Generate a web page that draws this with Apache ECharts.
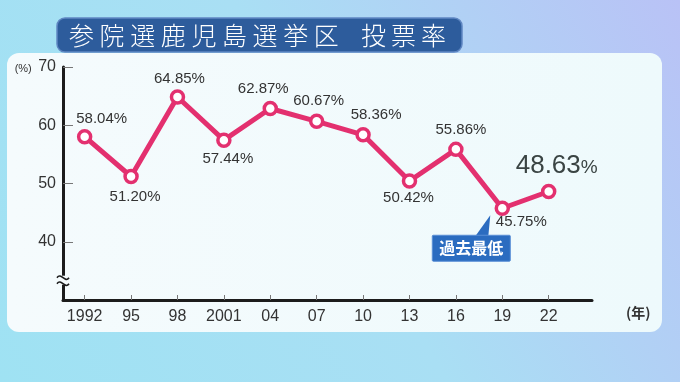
<!DOCTYPE html>
<html>
<head>
<meta charset="utf-8">
<script src="https://cdn.jsdelivr.net/npm/echarts@6/dist/echarts.min.js"></script>
<style>html,body{margin:0;padding:0;}#c{width:680px;height:382px;}</style>
</head>
<body>
<div id="c"></div>
<script>
const years = [1992, 1995, 1998, 2001, 2004, 2007, 2010, 2013, 2016, 2019, 2022];
const tickLabels = ['1992', '95', '98', '2001', '04', '07', '10', '13', '16', '19', '22'];
const turnout = [58.04, 51.20, 64.85, 57.44, 62.87, 60.67, 58.36, 50.42, 55.86, 45.75, 48.63];
const yTicks = [40, 50, 60, 70];
const titleMain = '参院選鹿児島選挙区';
const titleSub = '投票率';
const lowNote = '過去最低';
const lowIndex = 9;
const latestIndex = 10;

// label placement (style, not data)
const labelOffsets = [[17,-18],[4,20],[2,-18],[4,19],[-7,-20],[2,-20],[13,-20],[-1,17],[5,-20],[19,14],[8,-26]];

const chart = echarts.init(document.getElementById('c'));
const numFont = 'Liberation Sans';
const jpFont = 'Noto Sans CJK JP';

const seriesData = years.map((y, i) => {
  const item = { value: [y, turnout[i]], label: { offset: labelOffsets[i] } };
  if (i === latestIndex) {
    item.label.formatter = '{b|' + turnout[i].toFixed(2) + '}{p|%}';
  }
  return item;
});

chart.setOption({
  backgroundColor: {
    type: 'linear', x: 0, y: 1, x2: 1, y2: 0,
    colorStops: [
      { offset: 0, color: '#9fe2f3' },
      { offset: 0.5, color: '#a9dff4' },
      { offset: 1, color: '#b9c2f6' }
    ]
  },
  animation: false,
  grid: { left: 63, right: 88, top: 67, bottom: 82 },
  xAxis: {
    type: 'value', min: 1990.6, max: 2024.8,
    splitLine: { show: false },
    axisLine: { lineStyle: { color: '#1c1c1c', width: 3 } },
    axisTick: { inside: true, length: 5, customValues: years, lineStyle: { color: '#777', width: 1 } },
    axisLabel: {
      customValues: years, margin: 9,
      formatter: v => tickLabels[years.indexOf(Math.round(v))] || '',
      fontFamily: numFont, fontSize: 16, color: '#333'
    },
    name: '(年)', nameLocation: 'end', nameGap: 34,
    nameTextStyle: { fontFamily: jpFont, fontSize: 14, fontWeight: 'bold', color: '#333', verticalAlign: 'top', padding: [6, 0, 0, 0] }
  },
  yAxis: {
    type: 'value', min: 30, max: 70, interval: 10,
    splitLine: { show: false },
    axisLine: { show: true, lineStyle: { color: '#1c1c1c', width: 3 } },
    axisTick: { show: true, inside: true, length: 10, customValues: yTicks, lineStyle: { color: '#777', width: 1 } },
    axisLabel: {
      customValues: yTicks, margin: 7,
      fontFamily: numFont, fontSize: 16, color: '#333',
      formatter: v => v === 70 ? '{u|(%)} 70' : String(v),
      rich: { u: { fontFamily: numFont, fontSize: 11, color: '#333', padding: [4, 2, 0, 0] } }
    }
  },
  series: [{
    type: 'line',
    data: seriesData,
    z: 5,
    lineStyle: { color: '#e3306f', width: 5 },
    itemStyle: { color: '#ffffff', borderColor: '#e3306f', borderWidth: 3.5 },
    symbol: 'circle', symbolSize: 12,
    label: {
      show: true, position: 'inside',
      fontFamily: numFont, fontSize: 15, color: '#333',
      formatter: p => p.value[1].toFixed(2) + '%',
      rich: {
        b: { fontFamily: numFont, fontSize: 26, color: '#3a4443' },
        p: { fontFamily: numFont, fontSize: 19, color: '#3a4443', padding: [4, 0, 0, 0] }
      }
    }
  }]
});

const lowPt = chart.convertToPixel({ gridIndex: 0 }, [years[lowIndex], turnout[lowIndex]]);
const origin = chart.convertToPixel({ gridIndex: 0 }, [1990.6, 30]);
const breakTop = chart.convertToPixel({ gridIndex: 0 }, [1990.6, 34]);
const bx = lowPt[0] - 70, by = lowPt[1] + 27;
const ax = origin[0], bt = breakTop[1];

function tilde(y) {
  return { type: 'bezierCurve', z: 21, silent: true,
    shape: { x1: ax - 6, y1: y, x2: ax + 6, y2: y, cpx1: ax - 2, cpy1: y - 6, cpx2: ax + 2, cpy2: y + 6 },
    style: { stroke: '#1c1c1c', lineWidth: 1.6, fill: null } };
}

function titleChars(str, cx0, adv) {
  return Array.from(str).map((ch, i) => ({
    type: 'text', z: 11, silent: true,
    style: { x: cx0 + adv * i, y: 35, text: ch, fill: '#ffffff', font: '300 25px "Noto Sans CJK JP"', align: 'center', verticalAlign: 'middle' }
  }));
}

chart.setOption({
  graphic: [
    { type: 'rect', z: -10, silent: true, shape: { x: 7, y: 53, width: 655, height: 279, r: 12 },
      style: { fill: { type: 'linear', x: 0, y: 0, x2: 1, y2: 0, colorStops: [{ offset: 0, color: '#f5fbfd' }, { offset: 1, color: '#eefafc' }] } } },
    { type: 'rect', z: 10, shape: { x: 57, y: 18, width: 405, height: 34, r: 8 },
      style: { fill: '#2d5c9c', stroke: '#5f86c2', lineWidth: 1.5 } },
    ...titleChars(titleMain, 81.5, 30.6),
    ...titleChars(titleSub, 373.5, 30),
    // axis break mark
    { type: 'rect', z: 20, silent: true, shape: { x: ax - 5, y: bt - 1, width: 10, height: 9 }, style: { fill: '#f5fbfd' } },
    tilde(bt + 1),
    tilde(bt + 7),
    // 過去最低 callout
    { type: 'polygon', z: 20, shape: { points: [[bx + 43, by + 1], [bx + 56, by + 1], [lowPt[0] - 12, lowPt[1] + 7]] }, style: { fill: '#2b6cc0' } },
    { type: 'rect', z: 20, shape: { x: bx, y: by, width: 78, height: 26, r: 1 }, style: { fill: '#2b6cc0', stroke: '#5a8fd6', lineWidth: 1 } },
    { type: 'text', z: 21, style: { x: bx + 39, y: by + 13, text: lowNote, fill: '#ffffff', font: 'bold 16px "Noto Sans CJK JP"', align: 'center', verticalAlign: 'middle' } }
  ]
});
</script>
</body>
</html>
